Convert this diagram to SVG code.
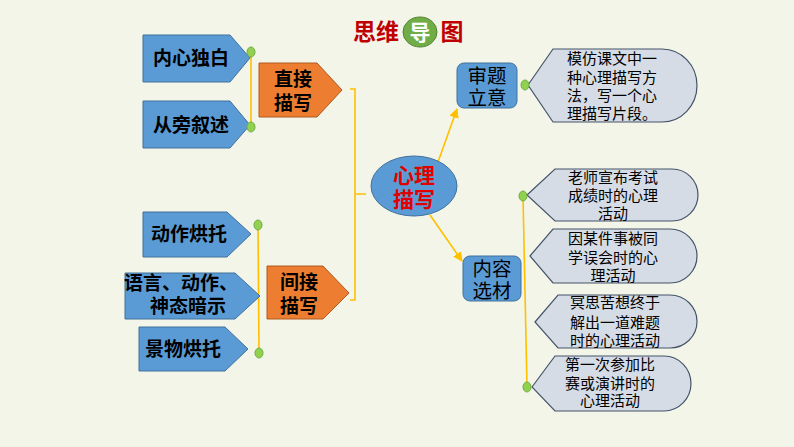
<svg xmlns="http://www.w3.org/2000/svg" width="794" height="447" viewBox="0 0 794 447">
<style>
text{font-family:"Liberation Sans","Noto Sans CJK SC",sans-serif;}
.blue{fill:#5b9bd5;stroke:#41719c;stroke-width:1}
.orange{fill:#ed7d31;stroke:#ae5a21;stroke-width:1}
.call{fill:#d6dce5;stroke:#44546a;stroke-width:1.2}
.ln{stroke:#ffc000;stroke-width:1.6;fill:none}
.dot{fill:#92d050;stroke:#70ad47;stroke-width:1}
.bt{font-size:19px;font-weight:700;fill:#000;text-anchor:middle}
.ct{font-size:15px;fill:#000;text-anchor:middle}
.lt{font-size:15px;fill:#000;text-anchor:start}
.bx{font-size:19.5px;fill:#000;text-anchor:middle}
</style>
<defs>
<marker id="ah" viewBox="0 0 10 10" refX="9" refY="5" markerWidth="6" markerHeight="6" orient="auto"><path d="M0,0 L10,5 L0,10 Z" fill="#ffc000"/></marker>
</defs>
<rect width="794" height="447" fill="#f4f5e9"/>

<g id="title">
<text x="376" y="40" font-size="23" font-weight="700" fill="#c00000" text-anchor="middle">思维</text>
<ellipse cx="420" cy="32" rx="17" ry="15" fill="#70ad47" stroke="#548235" stroke-width="1"/>
<text x="420" y="40" font-size="21" font-weight="700" fill="#fff" text-anchor="middle">导</text>
<text x="452" y="40" font-size="23" font-weight="700" fill="#c00000" text-anchor="middle">图</text>
</g>

<g id="connectors">
<line class="ln" x1="251" y1="52" x2="251" y2="127"/>
<line class="ln" x1="258" y1="225" x2="259" y2="353"/>
<path class="ln" d="M350,89 H355 V300 H350 M355,194 H366"/>
<line class="ln" x1="438" y1="162" x2="457" y2="109" marker-end="url(#ah)"/>
<line class="ln" x1="430" y1="215" x2="462" y2="261" marker-end="url(#ah)"/>
<line class="ln" x1="523" y1="196" x2="527" y2="387"/>
</g>

<g id="n-neixin"><path class="blue" d="M143,35 H230 L250,58 L230,82 H143 Z"/><text class="bt" x="191" y="65">内心独白</text></g>
<g id="n-congpang"><path class="blue" d="M143,101 H230 L250,125 L230,148 H143 Z"/><text class="bt" x="191" y="132">从旁叙述</text></g>
<g id="n-zhijie"><path class="orange" d="M259,63 H317 L342,90 L317,117 H259 Z"/><text class="bt" x="293" y="86">直接<tspan x="293" dy="24">描写</tspan></text></g>
<g id="n-dongzuo"><path class="blue" d="M143,212 H227 L251,234 L227,257 H143 Z"/><text class="bt" x="189" y="241">动作烘托</text></g>
<g id="n-yuyan"><path class="blue" d="M125,273 H235 L260,296 L235,319 H125 Z"/><text class="bt" x="181" y="290" font-size="18">语言、动作、<tspan x="188" dy="23">神态暗示</tspan></text></g>
<g id="n-jingwu"><path class="blue" d="M139,327 H225 L248,349 L225,371 H139 Z"/><text class="bt" x="183" y="356">景物烘托</text></g>
<g id="n-jianjie"><path class="orange" d="M267,266 H323 L349,293 L323,319 H267 Z"/><text class="bt" x="299" y="289">间接<tspan x="299" dy="24">描写</tspan></text></g>

<g id="n-center"><ellipse cx="414" cy="186" rx="43" ry="30" fill="#5b9bd5" stroke="#41719c" stroke-width="1"/>
<text x="414" y="183" font-size="21" font-weight="700" fill="#e00000" text-anchor="middle">心理<tspan x="414" dy="24">描写</tspan></text></g>

<g id="n-shenti"><rect class="blue" x="457" y="63" width="60" height="45" rx="7"/><text class="bx" x="487" y="83">审题<tspan x="487" dy="22">立意</tspan></text></g>
<g id="n-neirong"><rect class="blue" x="463" y="256" width="58" height="45" rx="7"/><text class="bx" x="492" y="276">内容<tspan x="492" dy="22">选材</tspan></text></g>

<g id="c1"><path class="call" d="M528,85 L553,49 H662 A35,36.5 0 0 1 662,122 H553 Z"/>
<text class="lt" x="567" y="64">模仿课文中一<tspan x="567" dy="19">种心理描写方</tspan><tspan x="567" dy="18">法，写一个心</tspan><tspan x="567" dy="18">理描写片段。</tspan></text></g>
<g id="c2"><path class="call" d="M527,195 L555,169 H672 A26,26 0 0 1 672,221 H555 Z"/>
<text class="ct" x="613" y="183">老师宣布考试<tspan x="613" dy="18">成绩时的心理</tspan><tspan x="613" dy="18">活动</tspan></text></g>
<g id="c3"><path class="call" d="M530,256 L553,229 H670 A27,27 0 0 1 670,283 H553 Z"/>
<text class="ct" x="613" y="244">因某件事被同<tspan x="613" dy="19">学误会时的心</tspan><tspan x="613" dy="18">理活动</tspan></text></g>
<g id="c4"><path class="call" d="M535,322 L558,295 H670 A27,26.5 0 0 1 670,348 H558 Z"/>
<text class="ct" x="615" y="308">冥思苦想终于<tspan x="615" dy="20">解出一道难题</tspan><tspan x="615" dy="18">时的心理活动</tspan></text></g>
<g id="c5"><path class="call" d="M532,387 L555,356 H664 A27,27.5 0 0 1 664,411 H555 Z"/>
<text class="ct" x="610" y="370">第一次参加比<tspan x="610" dy="19">赛或演讲时的</tspan><tspan x="610" dy="17">心理活动</tspan></text></g>

<g id="dots">
<ellipse class="dot" cx="251" cy="52" rx="4" ry="5"/>
<ellipse class="dot" cx="251" cy="127" rx="4" ry="5"/>
<ellipse class="dot" cx="258" cy="225" rx="4" ry="5"/>
<ellipse class="dot" cx="259" cy="353" rx="4" ry="5"/>
<ellipse class="dot" cx="525" cy="85" rx="4" ry="5"/>
<ellipse class="dot" cx="523" cy="196" rx="4" ry="5"/>
<ellipse class="dot" cx="527" cy="387" rx="4" ry="5"/>
</g>
</svg>
